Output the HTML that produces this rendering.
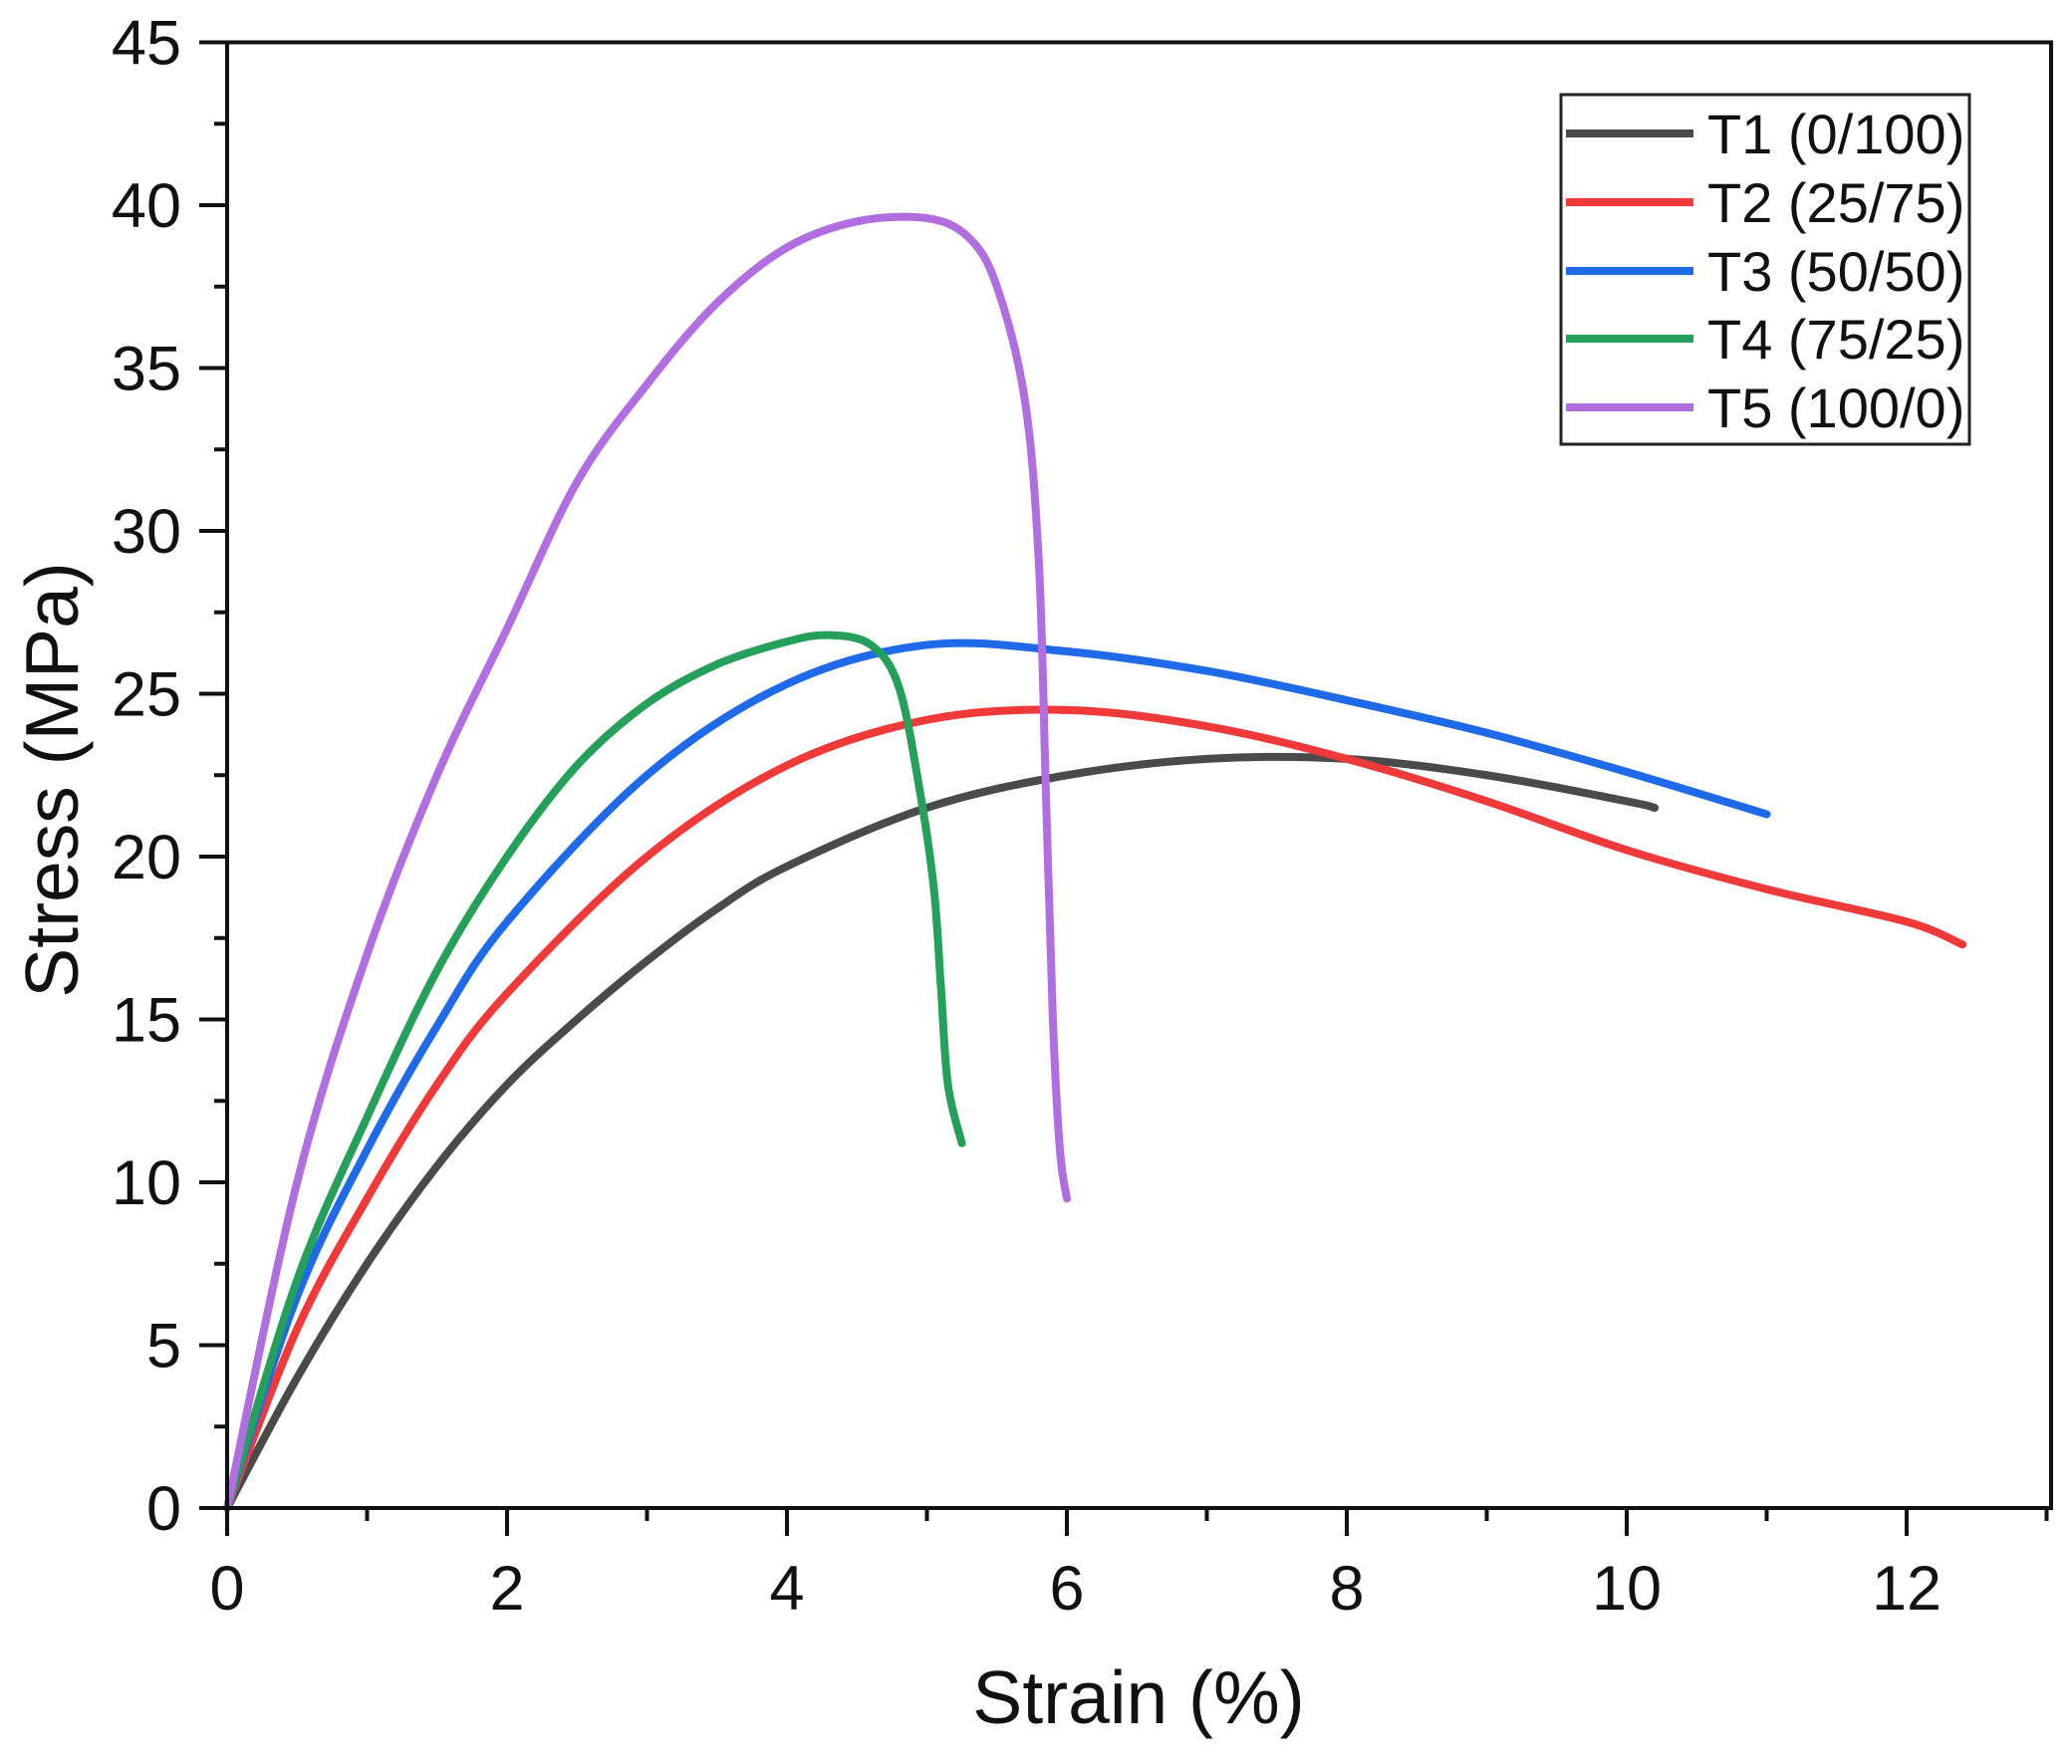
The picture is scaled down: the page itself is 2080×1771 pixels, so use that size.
<!DOCTYPE html>
<html><head><meta charset="utf-8"><style>
html,body{margin:0;padding:0;background:#fff;}
svg{display:block;font-family:"Liberation Sans",Arial,sans-serif;}
</style></head><body>
<svg id="s" width="2080" height="1771" viewBox="0 0 2080 1771" xmlns="http://www.w3.org/2000/svg">
<rect x="0" y="0" width="2080" height="1771" fill="#fff"/>
<g id="curves" fill="none" stroke-width="8" stroke-linejoin="round" stroke-linecap="round"></g>
<rect x="228" y="42.5" width="1831" height="1471.5" fill="none" stroke="#111" stroke-width="4"/>
<g id="ticks" stroke="#111" stroke-width="4"></g>
<g id="labels" font-size="63" fill="#111"></g>
<text x="1143" y="1730" font-size="75" text-anchor="middle" fill="#111">Strain (%)</text>
<text transform="translate(78,783) rotate(-90)" font-size="75" text-anchor="middle" fill="#111">Stress (MPa)</text>
<rect x="1567" y="95" width="410" height="351" fill="#fff" stroke="#222" stroke-width="3"/>
<g id="legend" font-size="56" fill="#111"></g>
</svg>
<script>
var X0=228,XU=140.5,Y0=1514,YU=32.7,NS="http://www.w3.org/2000/svg";
function px(x){return X0+x*XU}function py(y){return Y0-y*YU}
function el(t,a,p,txt){var e=document.createElementNS(NS,t);for(var k in a)e.setAttribute(k,a[k]);if(txt!=null)e.textContent=txt;p.appendChild(e);return e}
var T=document.getElementById('ticks'),L=document.getElementById('labels');
for(var i=0;i<=13;i++){var x=px(i);var maj=i%2==0;el('line',{x1:x,y1:Y0,x2:x,y2:Y0+(maj?28:13)},T);
 if(maj)el('text',{x:x,y:1616,'text-anchor':'middle'},L,String(i));}
for(var j=0;j<=45;j+=2.5){var y=py(j);var maj=j%5==0;el('line',{x1:X0,y1:y,x2:X0-(maj?28:13),y2:y},T);
 if(maj)el('text',{x:182,y:y+22,'text-anchor':'end'},L,String(j));}
var D=[
["#4a4a4a",[[0,0],[0.5,4],[1,7.5],[1.5,10.5],[2,13],[2.5,15],[3,16.8],[3.5,18.4],[4,19.7],[5,21.5],[6,22.5],[7,23],[8,23],[9,22.5],[10,21.7],[10.2,21.5]]],
["#f03a3a",[[0,0],[0.5,5.5],[1,9.5],[1.5,13],[2,15.8],[3,20],[4,22.8],[5,24.2],[6,24.5],[7,24],[8,23],[9,21.7],[10,20.2],[11,19],[12,18],[12.4,17.3]]],
["#1f6ae8",[[0,0],[0.5,6.5],[1,11],[1.5,14.8],[2,18],[3,22.5],[4,25.3],[5,26.5],[6,26.3],[7,25.7],[8,24.8],[9,23.8],[10,22.6],[11,21.3]]],
["#25a05a",[[0,0],[0.5,7],[1,12],[1.5,16.5],[2,20],[2.5,22.8],[3,24.7],[3.5,25.9],[4,26.6],[4.3,26.8],[4.6,26.5],[4.8,25.2],[4.95,22],[5.05,19],[5.1,16],[5.15,13],[5.25,11.2]]],
["#b06ee0",[[0,0],[0.5,10],[1,17],[1.5,22.5],[2,27],[2.5,31.5],[3,34.5],[3.5,37],[4,38.7],[4.5,39.5],[5,39.6],[5.3,39],[5.5,37.5],[5.7,34],[5.8,29],[5.85,22],[5.9,15],[5.95,11],[6,9.5]]]];
var C=document.getElementById('curves');
D.forEach(function(d){var p=d[1],s="M"+px(p[0][0])+","+py(p[0][1]);
 for(var i=1;i<p.length;i++){var a=p[Math.max(0,i-2)],b=p[i-1],c=p[i],e=p[Math.min(p.length-1,i+1)];
  var c1=[b[0]+(c[0]-a[0])/6,b[1]+(c[1]-a[1])/6],c2=[c[0]-(e[0]-b[0])/6,c[1]-(e[1]-b[1])/6];
  s+=" C"+px(c1[0])+","+py(c1[1])+" "+px(c2[0])+","+py(c2[1])+" "+px(c[0])+","+py(c[1]);}
 el('path',{d:s,stroke:d[0]},C);});
var G=document.getElementById('legend'),names=["T1 (0/100)","T2 (25/75)","T3 (50/50)","T4 (75/25)","T5 (100/0)"],ys=[134,203,272,340,409];
names.forEach(function(n,i){el('line',{x1:1572,y1:ys[i],x2:1700,y2:ys[i],stroke:D[i][0],'stroke-width':8},G);
 el('text',{x:1714,y:ys[i]+20},G,n);});
</script>
</body></html>
